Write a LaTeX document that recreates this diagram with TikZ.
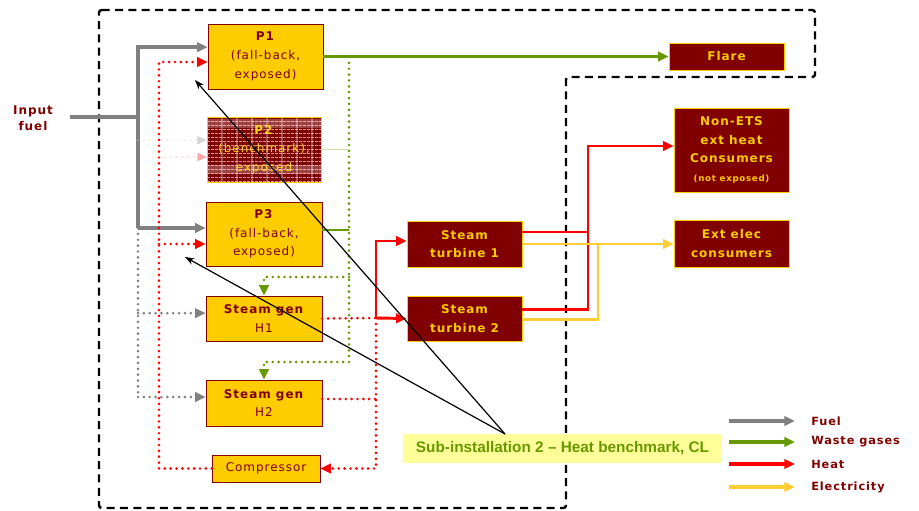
\documentclass[tikz,border=0pt]{standalone}
\usepackage{fontspec}
\setmainfont{DejaVu Sans}[LetterSpace=8]
\newfontfamily\arialfont{Liberation Sans}
\usetikzlibrary{arrows.meta}

\definecolor{boxred}{HTML}{800000}
\definecolor{boxyellow}{HTML}{FFCC00}
\definecolor{fuelgray}{HTML}{808080}
\definecolor{wastegreen}{HTML}{669900}
\definecolor{heatred}{HTML}{FF0000}
\definecolor{elecyellow}{HTML}{FFCC33}
\definecolor{notefill}{HTML}{FFFF99}
\newcommand\diagfont{\fontsize{9}{14}\selectfont}

\tikzset{
    ybox/.style={draw=boxred, fill=boxyellow, text=boxred,
        align=center, inner sep=0pt, font=\diagfont},
    rbox/.style={draw=boxyellow, fill=boxred, text=boxyellow,
        align=center, inner sep=0pt, font=\diagfont\bfseries},
    arr/.style={-{Triangle[length=8pt,width=7pt]}},
    solidflow/.style={line width=2.2pt},
    dotflow/.style={line width=2.2pt, line cap=round, dash pattern=on 0pt off 4.4pt},
    fuel/.style={solidflow, line width=2.8pt, draw=fuelgray},
    fueldot/.style={dotflow, draw=fuelgray},
    waste/.style={solidflow, draw=wastegreen},
    wastedot/.style={dotflow, draw=wastegreen},
    heat/.style={solidflow, draw=heatred},
    heatdot/.style={dotflow, draw=heatred},
    elec/.style={solidflow, draw=elecyellow},
    pointer/.style={line width=0.9pt, -{Stealth[length=7pt,width=5pt]}}
}

\begin{document}
\begin{tikzpicture}[x=0.75pt, y=-0.75pt]
    \useasboundingbox (0,0) rectangle (919,510);

    % installation boundary
    \draw[line width=1.8pt, dash pattern=on 6pt off 4pt, rounded corners=2pt]
        (99,10) -- (815,10) -- (815,77) -- (566,77) -- (566,508) -- (99,508) -- cycle;

    \node[text=boxred, font=\fontsize{9}{12}\selectfont\bfseries, align=center] (input) at (33,118) {Input\\fuel};

    \node[ybox, minimum width=86.25pt, minimum height=48.75pt] (p1) at (265.5,56.5)
        {\textbf{P1}\\(fall-back,\\exposed)};

    % P2 is greyed out
    \fill[boxred] (207,117) rectangle (321,182);
    \fill[white, opacity=0.25] (207,119) rectangle (321,128);
    \fill[white, opacity=0.25] (207,165) rectangle (321,174);
    \foreach \y in {121,125,...,181}
        \draw[white, opacity=0.6, line width=0.6pt, dash pattern=on 2pt off 1pt] (207,\y) -- (321,\y);
    \foreach \x in {222,237,...,312}
        \draw[white, opacity=0.3, line width=0.8pt] (\x,117) -- (\x,182);
    \node[draw=boxyellow, text=boxyellow!85, align=center, inner sep=0pt, font=\diagfont,
        minimum width=85.5pt, minimum height=48.75pt] (p2) at (264,149.5)
        {\textbf{P2}\\(benchmark),\\exposed};

    \node[ybox, minimum width=87pt, minimum height=48pt] (p3) at (264,234)
        {\textbf{P3}\\(fall-back,\\exposed)};
    \node[ybox, minimum width=87pt, minimum height=33.75pt] (h1) at (264,318.5)
        {\textbf{Steam gen}\\H1};
    \node[ybox, minimum width=87pt, minimum height=34.5pt] (h2) at (264,403)
        {\textbf{Steam gen}\\H2};
    \node[ybox, minimum width=81pt, minimum height=20.25pt] (comp) at (266,468.5) {Compressor};

    \node[rbox, minimum width=86.25pt, minimum height=34.5pt] (t1) at (464.5,244)
        {Steam\\turbine 1};
    \node[rbox, minimum width=86.25pt, minimum height=33.75pt] (t2) at (464.5,318.5)
        {Steam\\turbine 2};
    \node[rbox, minimum width=86.25pt, minimum height=20.25pt] (flare) at (726.5,56.5) {Flare};
    \node[rbox, minimum width=86.25pt, minimum height=63pt] (nonets) at (731.5,150)
        {Non-ETS\\ext heat\\Consumers\\{\fontsize{6.5}{8}\selectfont (not exposed)}};
    \node[rbox, minimum width=86.25pt, minimum height=35.25pt] (extelec) at (731.5,243.5)
        {Ext elec\\consumers};

    % fuel
    \coordinate (fin) at (70,117);
    \coordinate (fp3) at (138,228);
    \coordinate (fbot) at (138,397);
    \draw[fuel] (fin) -- (fin -| fp3);
    \draw[fuel, arr] (fp3) |- ([yshift=7pt]p1.west);
    \draw[fuel, arr] (fp3) -- ([yshift=4.5pt]p3.west);
    \draw[fueldot] (fp3) -- (fbot);
    \draw[fueldot, arr] ([yshift=4pt]h1.west -| fp3) -- ([yshift=4pt]h1.west);
    \draw[fueldot, arr] (fbot) -- ([yshift=4.5pt]h2.west);
    \draw[fueldot, draw=fuelgray!35, line width=1pt, -{Triangle[length=7pt,width=6pt]}]
        ([yshift=7pt]p2.west -| fp3) -- ([yshift=7pt]p2.west);

    % waste gases
    \coordinate (wg) at (349,57);
    \coordinate (wgmid) at (349,277);
    \coordinate (wgbot) at (349,362);
    \draw[waste, arr] (p1.east) -- (flare.west);
    \draw[wastedot] (wg) -- (wgbot);
    \draw[wastedot, arr] (wgmid) -| (h1.north);
    \draw[wastedot, arr] (wgbot) -| (h2.north);
    \draw[waste] ([yshift=3pt]p3.east) -- ([yshift=3pt]p3.east -| wg);
    \draw[wastegreen!30, line width=1pt] (p2.east) -- (p2.east -| wg);

    % heat
    \coordinate (hl) at (159,62);
    \coordinate (hj) at (376,318);
    \coordinate (hv) at (588,146);
    \draw[heatdot, arr] (comp.west) -| (hl) -- (hl -| p1.west);
    \draw[heatdot, arr] ([yshift=-7.5pt]p3.west -| hl) -- ([yshift=-7.5pt]p3.west);
    \draw[heatdot, draw=heatred!35, line width=1pt, -{Triangle[length=7pt,width=6pt]}]
        ([yshift=-5.6pt]p2.west -| hl) -- ([yshift=-5.6pt]p2.west);
    \draw[heatdot] (h1.east) -- (hj);
    \draw[heatdot] ([yshift=3pt]h2.east) -- ([yshift=3pt]h2.east -| hj);
    \draw[heatdot, arr] (hj) |- (comp.east);
    \draw[heat, arr] (hj) -- (t2.west);
    \draw[heat, arr] (hj) |- ([yshift=2.25pt]t1.west);
    \draw[heat] ([yshift=9pt]t1.east) -- ([yshift=9pt]t1.east -| hv);
    \draw[heat, arr] ([yshift=7pt]t2.east) -| (hv) -- (hv -| nonets.west);

    % electricity
    \coordinate (ev) at (598,243);
    \draw[elec, arr] (t1.east) -- (t1.east -| extelec.west);
    \draw[elec] ([yshift=-1pt]t2.east) -| (ev);

    % sub-installation
    \node[fill=notefill, text=wastegreen, inner sep=0pt,
        font=\arialfont\bfseries\fontsize{11.5}{13}\selectfont,
        minimum width=239.25pt, minimum height=21.75pt] (sub) at (562.5,448.5)
        {Sub-installation 2 – Heat benchmark, CL};
    \coordinate (callout) at (505,434);
    \coordinate (p1mark) at (195,80);
    \coordinate (p3mark) at (185,257);
    \draw[pointer] (callout) -- (p1mark);
    \draw[pointer] (callout) -- (p3mark);

    % legend
    \foreach \c/\t/\y in {fuelgray/Fuel/421, wastegreen/Waste gases/442,
                          heatred/Heat/464, elecyellow/Electricity/487} {
        \node[anchor=west, text=boxred, font=\fontsize{8.5}{10}\selectfont\bfseries,
            inner sep=0pt] (key\y) at (811,\y) {\t};
        \coordinate (keystart\y) at (729,\y);
        \draw[line width=2.8pt, draw=\c, -{Triangle[length=8pt,width=7pt]}]
            (keystart\y) -- ([xshift=-12pt]key\y.west);
    }
\end{tikzpicture}
\end{document}
